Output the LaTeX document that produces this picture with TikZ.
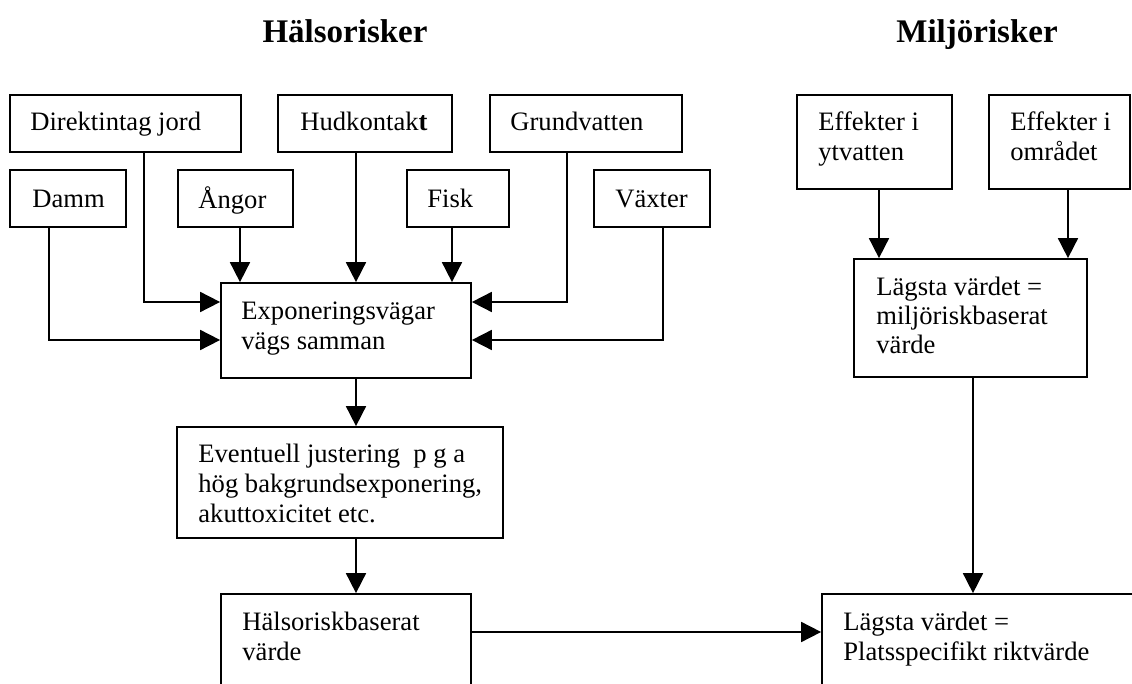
\documentclass[tikz,border=0pt]{standalone}
\usepackage{fontspec}
\setmainfont{Liberation Serif}
\usetikzlibrary{arrows.meta,fit}
\begin{document}
\begin{tikzpicture}[x=0.5pt,y=-0.5pt,
  box/.style={draw, line width=0.85pt, inner sep=0pt},
  txt/.style={anchor=north west, inner sep=0pt, align=left, font=\fontsize{13.3}{15}\selectfont},
  ttl/.style={anchor=base, inner sep=0pt, font=\fontsize{16.5}{19}\selectfont\bfseries},
  arr/.style={line width=0.85pt, -{Triangle[length=10pt,width=10pt]}}]
\useasboundingbox (0,0) rectangle (1132,684);
\clip (0,0) rectangle (1132,684);

% titles
\node[ttl] (t1) at (345,43) {Hälsorisker};
\node[ttl] (t2) at (977,43) {Miljörisker};

% boxes
\node[box, fit={(10,95) (241,152)}] (dir) {};
\node[box, fit={(278,95) (452,152)}] (hud) {};
\node[box, fit={(490,95) (682,152)}] (grund) {};
\node[box, fit={(10,170) (126,227)}] (damm) {};
\node[box, fit={(178,170) (293,227)}] (angor) {};
\node[box, fit={(407,170) (509,227)}] (fisk) {};
\node[box, fit={(594,170) (710,227)}] (vaxt) {};
\node[box, fit={(221,283) (471,378)}] (expo) {};
\node[box, fit={(177,427) (503,538)}] (event) {};
\node[box, fit={(221,594) (471,710)}] (hals) {};
\node[box, fit={(797,95) (952,189)}] (eff1) {};
\node[box, fit={(989,95) (1130,189)}] (eff2) {};
\node[box, fit={(854,259) (1087,377)}] (milj) {};
\node[box, fit={(822,594) (1160,710)}] (plats) {};

% texts
\node[txt] (tdir) at (30,109) {\strut Direktintag jord};
\node[txt] (thud) at (300,109) {\strut Hudkontak\textbf{t}};
\node[txt] (tgrund) at (510,109) {\strut Grundvatten};
\node[txt] (tdamm) at (32,186) {\strut Damm};
\node[txt] (tangor) at (198,186) {\strut Ångor};
\node[txt] (tfisk) at (427,186) {\strut Fisk};
\node[txt] (tvaxt) at (615,186) {\strut Växter};
\node[txt] (texpo) at (241,298) {\strut Exponeringsvägar\\vägs samman};
\node[txt] (tevent) at (198,441) {\strut Eventuell justering\ \ p g a\\hög bakgrundsexponering,\\akuttoxicitet etc.};
\node[txt] (thals) at (242,609) {\strut Hälsoriskbaserat\\värde};
\node[txt] (teff1) at (818,109) {\strut Effekter i\\ytvatten};
\node[txt] (teff2) at (1010,109) {\strut Effekter i\\området};
\node[txt, font=\fontsize{13.3}{14.5}\selectfont] (tmilj) at (876,275) {\strut Lägsta värdet =\\miljöriskbaserat\\värde};
\node[txt] (tplats) at (843,609) {\strut Lägsta värdet =\\Platsspecifikt riktvärde};

% connectors
\draw[arr] (dir.south -| 144,0) |- (expo.west |- 0,302);
\draw[arr] (damm.south -| 49,0) |- (expo.west |- 0,340);
\draw[arr] (angor.south -| 240,0) -- (expo.north -| 240,0);
\draw[arr] (hud.south -| 356,0) -- (expo.north -| 356,0);
\draw[arr] (fisk.south -| 452,0) -- (expo.north -| 452,0);
\draw[arr] (grund.south -| 567,0) |- (expo.east |- 0,302);
\draw[arr] (vaxt.south -| 663,0) |- (expo.east |- 0,340);
\draw[arr] (expo.south -| 356,0) -- (event.north -| 356,0);
\draw[arr] (event.south -| 356,0) -- (hals.north -| 356,0);
\draw[arr] (hals.east |- 0,632) -- (plats.west |- 0,632);
\draw[arr] (eff1.south -| 879,0) -- (milj.north -| 879,0);
\draw[arr] (eff2.south -| 1068,0) -- (milj.north -| 1068,0);
\draw[arr] (milj.south -| 973,0) -- (plats.north -| 973,0);
\end{tikzpicture}
\end{document}
